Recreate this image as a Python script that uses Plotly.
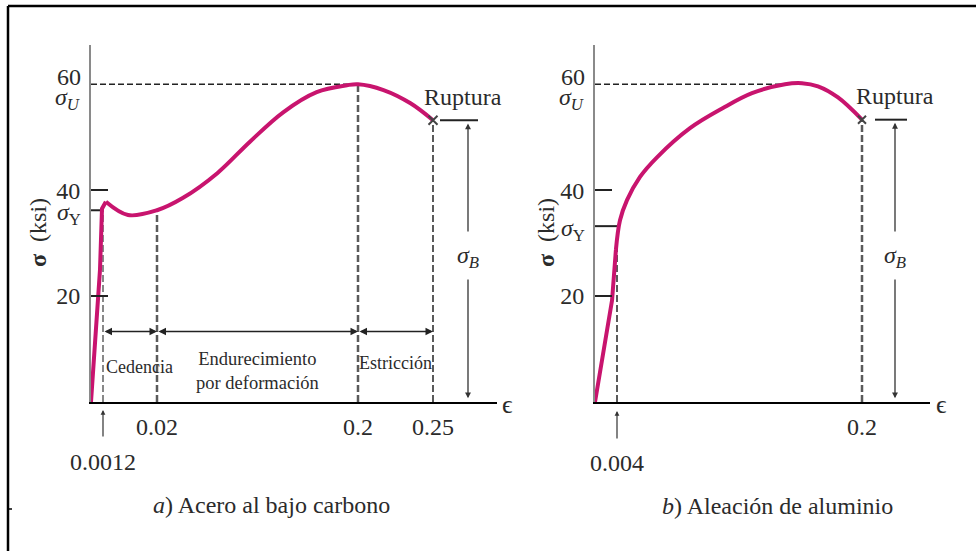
import numpy as np
import plotly.graph_objects as go

# ---------------- data (strain, stress in ksi) ----------------
# a) low-carbon steel
steel_elastic_strain = [0.0, 0.0009, 0.0011, 0.0022]
steel_elastic_stress = [0.0, 25.0, 36.5, 37.8]
steel_plastic_strain = [0.0022, 0.0099, 0.02, 0.043, 0.074, 0.103, 0.133, 0.163, 0.19, 0.2, 0.217, 0.235, 0.25]
steel_plastic_stress = [37.8, 35.3, 36.2, 38.5, 43.2, 49.1, 54.7, 58.5, 59.8, 60.0, 58.9, 56.4, 53.2]
steel_sigma_Y = 36.2
steel_sigma_U = 60.0
steel_sigma_R = 53.2
steel_eps_Y = 0.0012
steel_eps_SH = 0.02
steel_eps_U = 0.2
steel_eps_R = 0.25

# b) aluminium alloy
al_elastic_strain = [0.0, 0.0031, 0.0038]
al_elastic_stress = [0.0, 19.2, 28.7]
al_plastic_strain = [0.0038, 0.0064, 0.012, 0.0224, 0.036, 0.0624, 0.0888, 0.112, 0.1384, 0.152, 0.1648, 0.1808, 0.2]
al_plastic_stress = [28.7, 34.3, 38.1, 42.5, 46.2, 51.7, 55.5, 58.3, 60.0, 60.2, 59.6, 57.5, 53.3]
al_sigma_Y = 33.2
al_sigma_U = 60.0
al_sigma_R = 53.3
al_eps_Y = 0.004
al_eps_U = 0.152
al_eps_R = 0.2

# tick labels
y_tickvals = [20, 40]
y_ticktext = ["20", "40"]
steel_xticks = [0.02, 0.2, 0.25]
steel_xticklabels = ["0.02", "0.2", "0.25"]
al_xticks = [0.2]
al_xticklabels = ["0.2"]

# schematic (not to scale) strain axes: knots of a piecewise-linear scale
steel_knots_strain = [0, 0.0012, 0.02, 0.2, 0.25]
steel_knots_pos = [0, 12, 66, 267, 342]
al_knots_strain = [0, 0.004, 0.2]
al_knots_pos = [0, 22, 267]


def ws(e):
    return np.interp(e, steel_knots_strain, steel_knots_pos)


def wa(e):
    return np.interp(e, al_knots_strain, al_knots_pos)


W, H = 976, 551
FONT = "Liberation Serif, Times New Roman, serif"
TXT = "#2b2b2b"
CURVE = "#c8146e"
DASHC = "#5a5a5a"

fig = go.Figure()


def line(xa, ya, x, y, color, width, dash=None, shape="linear"):
    fig.add_trace(go.Scatter(x=x, y=y, xaxis=xa, yaxis=ya, mode="lines",
                             line=dict(color=color, width=width, dash=dash, shape=shape, smoothing=1.0),
                             hoverinfo="skip", showlegend=False))


# ---------- panel a ----------
DV = "7px,3px"
line("x", "y", [ws(steel_eps_Y)] * 2, [0, steel_sigma_Y], "#888", 2, DV)
line("x", "y", [ws(steel_eps_SH)] * 2, [0, 36.2], DASHC, 2.5, DV)
line("x", "y", [ws(steel_eps_U)] * 2, [0, steel_sigma_U], DASHC, 2.5, DV)
line("x", "y", [ws(steel_eps_R)] * 2, [0, steel_sigma_R], DASHC, 2, DV)
line("x", "y", [0, ws(steel_eps_U)], [steel_sigma_U] * 2, "#222", 1.6, "6px,3px")
line("x", "y", [0, ws(0.0011)], [steel_sigma_Y] * 2, "#222", 2)
line("x", "y", ws(np.array(steel_elastic_strain)), steel_elastic_stress, CURVE, 4)
line("x", "y", ws(np.array(steel_plastic_strain)), steel_plastic_stress, CURVE, 4, shape="spline")
fig.add_trace(go.Scatter(x=[ws(steel_eps_R)], y=[steel_sigma_R], xaxis="x", yaxis="y", mode="markers",
                         marker=dict(symbol="x-thin", size=9, line=dict(width=2, color="#444")),
                         hoverinfo="skip", showlegend=False))

# ---------- panel b ----------
line("x2", "y2", [wa(al_eps_Y)] * 2, [0, 31.0], DASHC, 2, DV)
line("x2", "y2", [wa(al_eps_R)] * 2, [0, al_sigma_R], DASHC, 2.5, DV)
line("x2", "y2", [0, wa(al_eps_U)], [al_sigma_U] * 2, "#222", 1.6, "6px,3px")
line("x2", "y2", [0, wa(0.004)], [al_sigma_Y] * 2, "#222", 2)
line("x2", "y2", wa(np.array(al_elastic_strain)), al_elastic_stress, CURVE, 4)
line("x2", "y2", wa(np.array(al_plastic_strain)), al_plastic_stress, CURVE, 4, shape="spline")
fig.add_trace(go.Scatter(x=[wa(al_eps_R)], y=[al_sigma_R], xaxis="x2", yaxis="y2", mode="markers",
                         marker=dict(symbol="x-thin", size=8, line=dict(width=2, color="#444")),
                         hoverinfo="skip", showlegend=False))

ann = []


def text(xref, yref, x, y, s, size=24, xanchor="center", yanchor="middle", angle=0, color=TXT, xshift=0, yshift=0):
    ann.append(dict(xref=xref, yref=yref, x=x, y=y, text=s, showarrow=False, xanchor=xanchor,
                    yanchor=yanchor, textangle=angle, xshift=xshift, yshift=yshift,
                    font=dict(family=FONT, size=size, color=color)))


def arrow(xref, yref, x0, y0, x1, y1, both=False, width=1.5, size=1.0, color="#222"):
    ann.append(dict(xref=xref, yref=yref, axref=xref, ayref=yref, x=x1, y=y1, ax=x0, ay=y0,
                    text="", showarrow=True, arrowhead=2, arrowsize=size, arrowwidth=width,
                    arrowcolor=color, arrowside="end+start" if both else "end", standoff=0,
                    startstandoff=0))


def py(px):
    return 1 - px / H


# y labels (sigma markers)
for xr, yr, sY in (("x", "y", steel_sigma_Y), ("x2", "y2", al_sigma_Y)):
    text(xr, yr, 0, 60, "60", xanchor="right", xshift=-8, yshift=7)
    text(xr, yr, 0, 60, "<i>σ</i><sub><i>U</i></sub>", xanchor="right", xshift=-8, yshift=-15)
    text(xr, yr, 0, sY, "<i>σ</i><sub>Y</sub>", xanchor="right", xshift=-8, yshift=-4)

# axis titles
text("paper", "paper", 38 / W, py(233), "<b>σ</b>  (ksi)", size=24, angle=-90)
text("paper", "paper", 546 / W, py(233), "<b>σ</b>  (ksi)", size=24, angle=-90)
text("paper", "paper", 507 / W, py(404), "ϵ", size=26)
text("paper", "paper", 941 / W, py(404), "ϵ", size=26)

# captions
text("paper", "paper", 271 / W, py(505), "<i>a</i>) Acero al bajo carbono", size=24)
text("paper", "paper", 777 / W, py(506), "<i>b</i>) Aleación de aluminio", size=24)

# panel a: regions
arr_y = 13.3
arrow("x", "y", ws(steel_eps_Y), arr_y, ws(steel_eps_SH), arr_y, both=True)
arrow("x", "y", ws(steel_eps_SH), arr_y, ws(steel_eps_U), arr_y, both=True)
arrow("x", "y", ws(steel_eps_U), arr_y, ws(steel_eps_R), arr_y, both=True)
text("x", "y", ws(steel_eps_Y), 6.6, "Cedencia", size=18, xanchor="left", xshift=1)
text("x", "y", (ws(steel_eps_SH) + ws(steel_eps_U)) / 2, 5.9, "Endurecimiento<br>por deformación", size=18.5)
text("x", "y", (ws(steel_eps_U) + ws(steel_eps_R)) / 2, 7.4, "Estricción", size=18)

# small tick arrows and labels for yield strain (below the axis -> paper y)
for xr, xv, tip, tail, lab_y, lab in (("x", ws(steel_eps_Y), 410, 438, 462, "0.0012"),
                                      ("x2", wa(al_eps_Y), 411, 440, 463, "0.004")):
    ann.append(dict(xref=xr, yref="paper", axref="pixel", ayref="pixel", x=xv, y=py(tip),
                    ax=0, ay=tail - tip, text="", showarrow=True, arrowhead=2, arrowsize=0.8,
                    arrowwidth=1.2, arrowcolor="#333", standoff=0))
    text(xr, "paper", xv, py(lab_y), lab, size=24)

# rupture annotations
for xr, yr, sR, xl0, xl1, xarr in (("x", "y", steel_sigma_R, 349, 387, 377),
                                   ("x2", "y2", al_sigma_R, 280, 312, 300)):
    text(xr, yr, (xl0 + xl1) / 2 + 4, sR + 4.4, "Ruptura", size=24)
    fig.add_shape(type="line", xref=xr, yref=yr, x0=xl0, x1=xl1, y0=sR, y1=sR,
                  line=dict(color="#222", width=2))
    arrow(xr, yr, xarr, 31.9, xarr, sR - 0.6, width=1.3, size=0.9, color="#333")
    arrow(xr, yr, xarr, 23.4, xarr, 0.7, width=1.3, size=0.9, color="#333")
    text(xr, yr, xarr, 27.4, "<i>σ</i><sub><i>B</i></sub>", size=24)

# border lines
fig.add_shape(type="line", xref="paper", yref="paper", x0=8 / W, x1=1, y0=py(6), y1=py(6),
              line=dict(color="black", width=2.5))
fig.add_shape(type="line", xref="paper", yref="paper", x0=8 / W, x1=8 / W, y0=0, y1=py(6),
              line=dict(color="black", width=2.5))
fig.add_shape(type="line", xref="paper", yref="paper", x0=8 / W, x1=12 / W, y0=py(509), y1=py(509),
              line=dict(color="black", width=1.5))

ax_common = dict(showgrid=False, zeroline=False, fixedrange=True)
yrange = [0, 67.4]
ydom = [149 / H, 506 / H]
tfont = dict(family=FONT, size=24, color=TXT)
fig.update_layout(
    width=W, height=H, margin=dict(l=0, r=0, t=0, b=0),
    paper_bgcolor="white", plot_bgcolor="white", showlegend=False,
    annotations=ann,
    xaxis=dict(domain=[91 / W, 497 / W], range=[0, 406], anchor="y", showline=True, linecolor="black",
               linewidth=2, ticks="", tickvals=list(ws(np.array(steel_xticks))), ticktext=steel_xticklabels,
               tickfont=tfont, ticklabelstandoff=2, **ax_common),
    yaxis=dict(domain=ydom, range=yrange, anchor="x", showline=True, linecolor="#8a8a8a", linewidth=2,
               ticks="inside", ticklen=17, tickwidth=2, tickcolor="#222", tickvals=y_tickvals,
               ticktext=y_ticktext, tickfont=tfont, ticklabelstandoff=4, **ax_common),
    xaxis2=dict(domain=[595 / W, 930 / W], range=[0, 335], anchor="y2", showline=True, linecolor="black",
                linewidth=2, ticks="", tickvals=list(wa(np.array(al_xticks))), ticktext=al_xticklabels,
                tickfont=tfont, ticklabelstandoff=2, **ax_common),
    yaxis2=dict(domain=ydom, range=yrange, anchor="x2", showline=True, linecolor="#8a8a8a", linewidth=2,
                ticks="inside", ticklen=17, tickwidth=2, tickcolor="#222", tickvals=y_tickvals,
                ticktext=y_ticktext, tickfont=tfont, ticklabelstandoff=4, **ax_common),
)

fig.write_html("out.html", config={"displayModeBar": False},
               post_script="document.body.style.margin='0';")
